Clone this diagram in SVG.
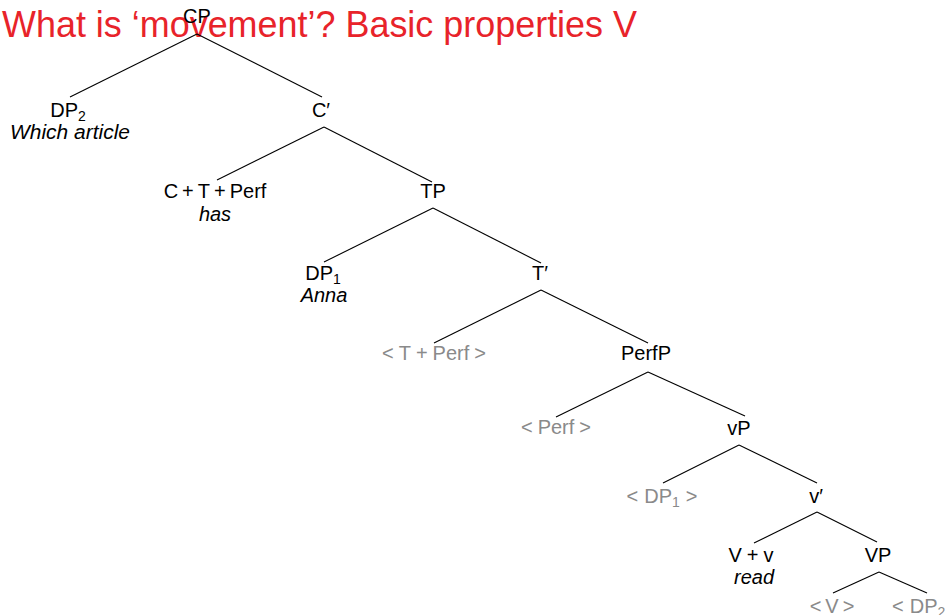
<svg xmlns="http://www.w3.org/2000/svg" width="945" height="615" viewBox="0 0 945 615">
<style>
text{font-family:"Liberation Sans",Arial,sans-serif;font-size:20px;fill:#000}
.n{text-anchor:middle}
.it{font-style:italic}
.g{fill:#8a8a8a}
.sub{font-size:14px}
.title{font-size:37px;fill:#e8232a}
#connectors line{stroke:#000;stroke-width:1.1}
</style>
<rect width="945" height="615" fill="#fff"/>
<text class="title" x="2" y="37" textLength="635" lengthAdjust="spacingAndGlyphs">What is ‘movement’? Basic properties V</text>
<g id="connectors">
<line x1="197" y1="34" x2="70" y2="97"/>
<line x1="197" y1="34" x2="322" y2="97"/>
<line x1="324" y1="127" x2="217" y2="180"/>
<line x1="324" y1="127" x2="432" y2="182"/>
<line x1="433" y1="208" x2="324" y2="262"/>
<line x1="433" y1="208" x2="541" y2="263"/>
<line x1="541" y1="290" x2="434" y2="343"/>
<line x1="541" y1="290" x2="648" y2="343"/>
<line x1="648" y1="372" x2="556" y2="417"/>
<line x1="648" y1="372" x2="745" y2="416"/>
<line x1="739" y1="445" x2="663" y2="483"/>
<line x1="739" y1="445" x2="817" y2="483"/>
<line x1="817" y1="512" x2="754" y2="543"/>
<line x1="817" y1="512" x2="877" y2="542"/>
<line x1="879" y1="572" x2="833" y2="593"/>
<line x1="879" y1="572" x2="927" y2="593"/>
</g>
<g id="CP"><text class="n" x="197" y="23">CP</text></g>
<g id="DP2"><text class="n" x="68" y="117">DP<tspan class="sub" dy="4">2</tspan></text><text class="n it" x="70" y="139" textLength="120" lengthAdjust="spacingAndGlyphs">Which article</text></g>
<g id="Cbar"><text class="n" x="321" y="117">C′</text></g>
<g id="CTPerf"><text class="n" x="215" y="198">C<tspan dx="4">+</tspan><tspan dx="4">T</tspan><tspan dx="4">+</tspan><tspan dx="4">Perf</tspan></text><text class="n it" x="215" y="221">has</text></g>
<g id="TP"><text class="n" x="433" y="198">TP</text></g>
<g id="DP1"><text class="n" x="323" y="280">DP<tspan class="sub" dy="4">1</tspan></text><text class="n it" x="324" y="302">Anna</text></g>
<g id="Tbar"><text class="n" x="540" y="280">T′</text></g>
<g id="TPerf-trace"><text class="n g" x="434" y="360">&lt;<tspan dx="5">T</tspan><tspan dx="5">+</tspan><tspan dx="5">Perf</tspan><tspan dx="5">&gt;</tspan></text></g>
<g id="PerfP"><text class="n" x="646" y="360">PerfP</text></g>
<g id="Perf-trace"><text class="n g" x="556" y="434">&lt;<tspan dx="5">Perf</tspan><tspan dx="5">&gt;</tspan></text></g>
<g id="vP"><text class="n" x="739" y="435">vP</text></g>
<g id="DP1-trace"><text class="n g" x="662" y="503">&lt;<tspan dx="6">DP</tspan><tspan class="sub" dy="4">1</tspan><tspan dx="6" dy="-4">&gt;</tspan></text></g>
<g id="vbar"><text class="n" x="816" y="503">v′</text></g>
<g id="Vv"><text class="n" x="751" y="562">V<tspan dx="5">+</tspan><tspan dx="5">v</tspan></text><text class="n it" x="754" y="584">read</text></g>
<g id="VP"><text class="n" x="878" y="562">VP</text></g>
<g id="V-trace"><text class="n g" x="832" y="613">&lt;<tspan dx="4">V</tspan><tspan dx="4">&gt;</tspan></text></g>
<g id="DP2-trace"><text class="g" x="892" y="613">&lt;<tspan dx="6">DP</tspan><tspan class="sub" dy="4">2</tspan><tspan dx="6" dy="-4">&gt;</tspan></text></g>
</svg>
